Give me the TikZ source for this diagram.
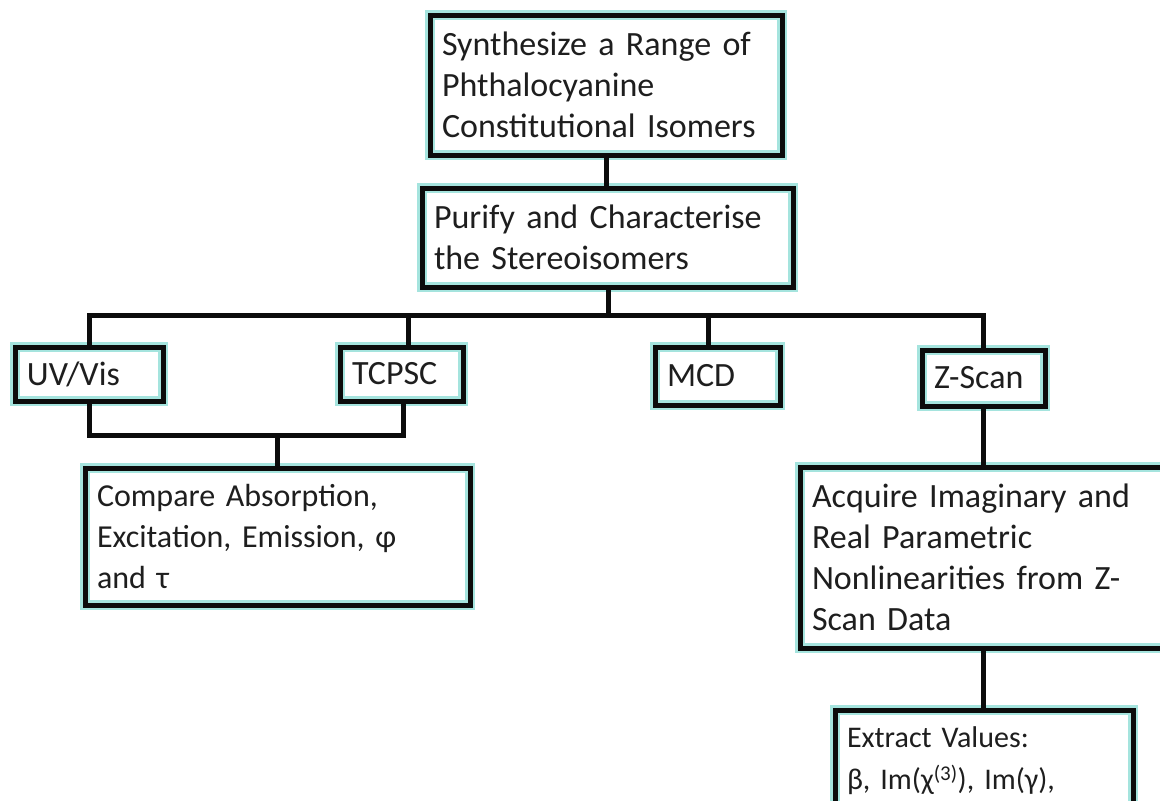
\documentclass[tikz,border=0pt]{standalone}
\usepackage{fontspec}
\setmainfont{Carlito}
\definecolor{glow}{RGB}{165,228,222}
\definecolor{boxline}{RGB}{12,12,12}
\definecolor{txt}{RGB}{30,30,30}
\begin{document}
\begin{tikzpicture}[x=1pt,y=-1pt,
  box/.style={rectangle, preaction={fill=white}, preaction={draw=glow, line width=10pt},
    draw=boxline, line width=5pt, inner xsep=12pt, inner ysep=4pt, align=left,
    font=\fontsize{34}{41}\selectfont, text=txt},
  link/.style={draw=boxline, line width=5pt}]
\useasboundingbox (0,0) rectangle (1160,801);
\clip (0,0) rectangle (1160,801);
\fill[white] (0,0) rectangle (1160,801);

\node[box, text width=328pt, minimum height=140pt] (syn) at (606,85) {Synthesize a Range of\\Phthalocyanine\\Constitutional Isomers};
\node[box, text width=347pt, minimum height=99pt] (pur) at (607.5,237.5) {Purify and Characterise\\the Stereoisomers};
\node[box, text width=124pt, minimum height=54pt] (uv) at (89,374) {UV/Vis};
\node[box, text width=99pt, minimum height=54pt] (tc) at (401.5,374) {TCPSC};
\node[box, text width=101pt, minimum height=58pt] (mcd) at (717.5,376) {MCD};
\node[box, text width=99pt, minimum height=56pt] (zs) at (983.5,378) {Z-Scan};
\node[box, text width=361pt, minimum height=137pt, font=\fontsize{32}{41}\selectfont] (cmp) at (277.5,536.5) {Compare Absorption,\\Excitation, Emission, φ\\and τ};
\node[box, text width=348pt, minimum height=181pt] (acq) at (986,557.5) {Acquire Imaginary and\\Real Parametric\\Nonlinearities from Z-\\Scan Data};
\node[box, text width=274pt, minimum height=102pt, font=\fontsize{30}{42}\selectfont] (ext) at (984,761) {Extract Values:\\β, Im(χ\textsuperscript{(3)}), Im(γ),};

\coordinate (bus) at (608,315);
\coordinate (bus2) at (277.5,435);

\draw[link] (syn.south) -- (syn.south |- pur.north);
\draw[link] (pur.south -| bus) -- (bus);
\draw[link] (uv.north) |- (bus) -| (zs.north);
\draw[link] ([xshift=6.5pt]tc.north) -- ([xshift=6.5pt]tc.north |- bus);
\draw[link] ([xshift=-9.5pt]mcd.north) -- ([xshift=-9.5pt]mcd.north |- bus);
\draw[link] (uv.south) |- ([xshift=1.5pt]tc.south |- bus2) -- ([xshift=1.5pt]tc.south);
\draw[link] (bus2) -- (cmp.north);
\draw[link] (zs.south) -- (zs.south |- acq.north);
\draw[link] (acq.south -| zs.south) -- (zs.south |- ext.north);
\end{tikzpicture}
\end{document}
